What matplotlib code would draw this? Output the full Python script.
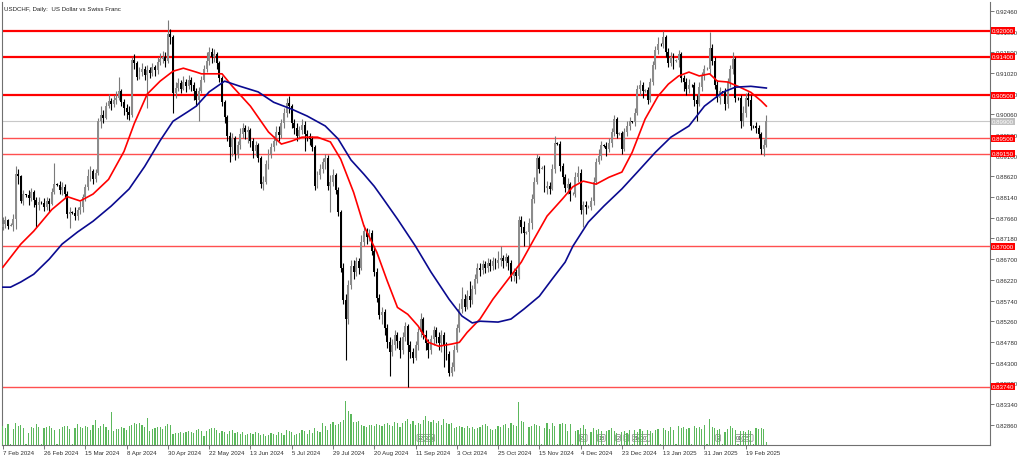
import numpy as np
import matplotlib
matplotlib.use("Agg")
import matplotlib.pyplot as plt
from matplotlib import font_manager

# USDCHF daily bars, 7 Feb 2024 .. 28 Feb 2025 (MT4 style)
first_open = 0.8745
closes = [
    0.8752, 0.8760, 0.8748, 0.8750, 0.8762, 0.8868, 0.8862, 0.8806, 0.8820, 0.8818,
    0.8812, 0.8825, 0.8808, 0.8795, 0.8802, 0.8800, 0.8790, 0.8805, 0.8798, 0.8825,
    0.8845, 0.8843, 0.8830, 0.8838, 0.8822, 0.8775, 0.8780, 0.8778, 0.8770, 0.8785,
    0.8790, 0.8815, 0.8838, 0.8862, 0.8875, 0.8855, 0.8870, 0.8990, 0.9005, 0.8998,
    0.9025, 0.9038, 0.9030, 0.9040, 0.9045, 0.9060, 0.9035, 0.9020, 0.9012, 0.9005,
    0.9132, 0.9125, 0.9092, 0.9105, 0.9112, 0.9098, 0.9108, 0.9102, 0.9115, 0.9108,
    0.9128, 0.9135, 0.9140, 0.9130, 0.9192, 0.9185, 0.9055, 0.9068, 0.9078, 0.9065,
    0.9080, 0.9072, 0.9085, 0.9075, 0.9060, 0.9040, 0.9060, 0.9085, 0.9110, 0.9130,
    0.9150, 0.9138, 0.9145, 0.9125, 0.9090, 0.9035, 0.9000, 0.8955, 0.8930, 0.8950,
    0.8915, 0.8935, 0.8960, 0.8975, 0.8965, 0.8970, 0.8945, 0.8920, 0.8935, 0.8905,
    0.8845, 0.8850, 0.8890, 0.8915, 0.8930, 0.8945, 0.8965, 0.8958, 0.8985, 0.9010,
    0.9032, 0.9025, 0.8985, 0.8975, 0.8955, 0.8970, 0.8982, 0.8960, 0.8955, 0.8948,
    0.8930, 0.8840, 0.8865, 0.8880, 0.8895, 0.8905, 0.8840, 0.8850, 0.8865, 0.8830,
    0.8780, 0.8650, 0.8575, 0.8530, 0.8610, 0.8655, 0.8640, 0.8665, 0.8650, 0.8710,
    0.8735, 0.8722, 0.8730, 0.8690, 0.8640, 0.8580, 0.8540, 0.8548, 0.8510, 0.8478,
    0.8455, 0.8470, 0.8495, 0.8480, 0.8460, 0.8490, 0.8515, 0.8470, 0.8455, 0.8440,
    0.8470, 0.8500, 0.8530, 0.8495, 0.8475, 0.8460, 0.8485, 0.8505, 0.8490, 0.8475,
    0.8495, 0.8470, 0.8450, 0.8405, 0.8420, 0.8460, 0.8510, 0.8555, 0.8578, 0.8560,
    0.8585, 0.8575, 0.8600, 0.8625, 0.8650, 0.8645, 0.8658, 0.8650, 0.8662, 0.8655,
    0.8665, 0.8660, 0.8668, 0.8672, 0.8665, 0.8675, 0.8662, 0.8630, 0.8640, 0.8632,
    0.8760, 0.8745, 0.8730, 0.8732, 0.8755, 0.8810, 0.8850, 0.8905, 0.8880, 0.8882,
    0.8835, 0.8840, 0.8832, 0.8880, 0.8940, 0.8938, 0.8885, 0.8860, 0.8835, 0.8845,
    0.8820, 0.8822, 0.8860, 0.8870, 0.8785, 0.8795, 0.8790, 0.8792, 0.8805, 0.8850,
    0.8895, 0.8910, 0.8935, 0.8933, 0.8925, 0.8940, 0.8965, 0.8995, 0.8960, 0.8962,
    0.8925, 0.8965, 0.8980, 0.8990, 0.8988, 0.9010, 0.9065, 0.9075, 0.9060, 0.9062,
    0.9040, 0.9080, 0.9120, 0.9155, 0.9170, 0.9168, 0.9185, 0.9150, 0.9125, 0.9140,
    0.9130, 0.9132, 0.9145, 0.9090, 0.9080, 0.9065, 0.9075, 0.9073, 0.9040, 0.9030,
    0.9070, 0.9095, 0.9110, 0.9112, 0.9160, 0.9130, 0.9075, 0.9045, 0.9060, 0.9058,
    0.9030, 0.9080, 0.9110, 0.9135, 0.9045, 0.9043, 0.8990, 0.9010, 0.9045, 0.9040,
    0.8980, 0.8978, 0.8975, 0.8960, 0.8925, 0.8935, 0.8990,
]
highs = [
    0.8768, 0.8770, 0.8764, 0.8753, 0.8775, 0.8885, 0.8880, 0.8866, 0.8830, 0.8822,
    0.8830, 0.8836, 0.8830, 0.8815, 0.8815, 0.8804, 0.8812, 0.8815, 0.8812, 0.8835,
    0.8892, 0.8846, 0.8852, 0.8850, 0.8845, 0.8828, 0.8790, 0.8781, 0.8790, 0.8792,
    0.8805, 0.8822, 0.8845, 0.8880, 0.8885, 0.8880, 0.8878, 0.8998, 0.9025, 0.9015,
    0.9035, 0.9052, 0.9045, 0.9050, 0.9060, 0.9092, 0.9065, 0.9042, 0.9030, 0.9025,
    0.9140, 0.9145, 0.9130, 0.9115, 0.9125, 0.9118, 0.9120, 0.9115, 0.9125, 0.9120,
    0.9140, 0.9148, 0.9152, 0.9150, 0.9225, 0.9205, 0.9190, 0.9080, 0.9090, 0.9085,
    0.9095, 0.9088, 0.9098, 0.9092, 0.9082, 0.9068, 0.9070, 0.9095, 0.9120, 0.9150,
    0.9162, 0.9160, 0.9158, 0.9150, 0.9130, 0.9095, 0.9040, 0.9005, 0.8965, 0.8962,
    0.8955, 0.8945, 0.8975, 0.8985, 0.8982, 0.8980, 0.8975, 0.8950, 0.8945, 0.8940,
    0.8910, 0.8862, 0.8900, 0.8925, 0.8940, 0.8955, 0.8978, 0.8980, 0.8995, 0.9020,
    0.9045, 0.9048, 0.9030, 0.8995, 0.8985, 0.8980, 0.8995, 0.8990, 0.8970, 0.8962,
    0.8955, 0.8935, 0.8875, 0.8890, 0.8905, 0.8915, 0.8912, 0.8865, 0.8878, 0.8870,
    0.8838, 0.8785, 0.8660, 0.8590, 0.8622, 0.8668, 0.8668, 0.8675, 0.8672, 0.8725,
    0.8750, 0.8742, 0.8740, 0.8738, 0.8700, 0.8650, 0.8590, 0.8560, 0.8555, 0.8520,
    0.8490, 0.8485, 0.8505, 0.8502, 0.8490, 0.8500, 0.8525, 0.8520, 0.8480, 0.8465,
    0.8480, 0.8510, 0.8545, 0.8535, 0.8505, 0.8485, 0.8495, 0.8515, 0.8512, 0.8500,
    0.8505, 0.8500, 0.8478, 0.8458, 0.8432, 0.8470, 0.8520, 0.8568, 0.8605, 0.8590,
    0.8598, 0.8620, 0.8610, 0.8635, 0.8660, 0.8662, 0.8668, 0.8665, 0.8672, 0.8670,
    0.8675, 0.8672, 0.8690, 0.8700, 0.8680, 0.8685, 0.8680, 0.8668, 0.8650, 0.8648,
    0.8770, 0.8770, 0.8758, 0.8735, 0.8765, 0.8820, 0.8860, 0.8915, 0.8910, 0.8885,
    0.8888, 0.8852, 0.8848, 0.8890, 0.8955, 0.8942, 0.8945, 0.8892, 0.8868, 0.8858,
    0.8850, 0.8825, 0.8872, 0.8885, 0.8878, 0.8805, 0.8805, 0.8795, 0.8815, 0.8860,
    0.8905, 0.8925, 0.8945, 0.8936, 0.8942, 0.8950, 0.8975, 0.9005, 0.9000, 0.8965,
    0.8968, 0.8975, 0.8990, 0.9000, 0.8991, 0.9020, 0.9075, 0.9085, 0.9082, 0.9065,
    0.9070, 0.9090, 0.9130, 0.9165, 0.9185, 0.9171, 0.9200, 0.9190, 0.9160, 0.9150,
    0.9148, 0.9135, 0.9155, 0.9150, 0.9098, 0.9090, 0.9088, 0.9076, 0.9080, 0.9050,
    0.9080, 0.9105, 0.9120, 0.9115, 0.9198, 0.9170, 0.9140, 0.9085, 0.9070, 0.9061,
    0.9068, 0.9090, 0.9120, 0.9150, 0.9140, 0.9046, 0.9050, 0.9025, 0.9055, 0.9058,
    0.9050, 0.8981, 0.8988, 0.8982, 0.8965, 0.8948, 0.9005,
]
lows = [
    0.8738, 0.8742, 0.8740, 0.8747, 0.8735, 0.8740, 0.8845, 0.8800, 0.8795, 0.8815,
    0.8795, 0.8805, 0.8790, 0.8745, 0.8785, 0.8797, 0.8782, 0.8785, 0.8780, 0.8795,
    0.8820, 0.8840, 0.8820, 0.8818, 0.8812, 0.8765, 0.8742, 0.8775, 0.8760, 0.8760,
    0.8775, 0.8780, 0.8805, 0.8830, 0.8852, 0.8845, 0.8848, 0.8865, 0.8975, 0.8985,
    0.8995, 0.9020, 0.9015, 0.9022, 0.9030, 0.9040, 0.9025, 0.9005, 0.8995, 0.8992,
    0.9000, 0.9110, 0.9085, 0.9088, 0.9095, 0.9085, 0.9020, 0.9090, 0.9095, 0.9095,
    0.9100, 0.9120, 0.9125, 0.9115, 0.9125, 0.9170, 0.9010, 0.9045, 0.9060, 0.9055,
    0.9062, 0.9058, 0.9065, 0.9060, 0.9040, 0.9025, 0.8990, 0.9055, 0.9080, 0.9105,
    0.9120, 0.9125, 0.9128, 0.9110, 0.9080, 0.9025, 0.8985, 0.8945, 0.8895, 0.8910,
    0.8900, 0.8905, 0.8925, 0.8950, 0.8948, 0.8940, 0.8930, 0.8905, 0.8910, 0.8895,
    0.8835, 0.8830, 0.8845, 0.8880, 0.8905, 0.8920, 0.8935, 0.8945, 0.8950, 0.8975,
    0.9000, 0.9010, 0.8975, 0.8960, 0.8945, 0.8948, 0.8960, 0.8920, 0.8945, 0.8935,
    0.8920, 0.8830, 0.8835, 0.8855, 0.8870, 0.8880, 0.8830, 0.8780, 0.8840, 0.8820,
    0.8770, 0.8640, 0.8565, 0.8435, 0.8520, 0.8600, 0.8625, 0.8630, 0.8635, 0.8645,
    0.8700, 0.8705, 0.8712, 0.8680, 0.8630, 0.8570, 0.8530, 0.8520, 0.8495, 0.8465,
    0.8400, 0.8445, 0.8460, 0.8465, 0.8440, 0.8450, 0.8480, 0.8374, 0.8440, 0.8428,
    0.8435, 0.8460, 0.8490, 0.8485, 0.8460, 0.8440, 0.8450, 0.8470, 0.8475, 0.8460,
    0.8455, 0.8420, 0.8435, 0.8400, 0.8398, 0.8410, 0.8455, 0.8500, 0.8545, 0.8550,
    0.8555, 0.8560, 0.8565, 0.8590, 0.8615, 0.8630, 0.8635, 0.8638, 0.8640, 0.8642,
    0.8645, 0.8648, 0.8650, 0.8655, 0.8650, 0.8655, 0.8645, 0.8620, 0.8620, 0.8615,
    0.8625, 0.8730, 0.8700, 0.8728, 0.8700, 0.8740, 0.8800, 0.8845, 0.8870, 0.8878,
    0.8825, 0.8820, 0.8820, 0.8830, 0.8870, 0.8935, 0.8875, 0.8845, 0.8825, 0.8820,
    0.8805, 0.8818, 0.8815, 0.8850, 0.8775, 0.8745, 0.8775, 0.8788, 0.8785, 0.8795,
    0.8845, 0.8890, 0.8900, 0.8930, 0.8910, 0.8918, 0.8930, 0.8955, 0.8950, 0.8958,
    0.8915, 0.8920, 0.8955, 0.8970, 0.8985, 0.8980, 0.9005, 0.9050, 0.9045, 0.9058,
    0.9030, 0.9035, 0.9075, 0.9110, 0.9145, 0.9165, 0.9160, 0.9140, 0.9115, 0.9118,
    0.9110, 0.9128, 0.9115, 0.9080, 0.9060, 0.9050, 0.9055, 0.9070, 0.9025, 0.8990,
    0.9025, 0.9060, 0.9085, 0.9108, 0.9100, 0.9120, 0.9065, 0.9035, 0.9030, 0.9055,
    0.9015, 0.9020, 0.9070, 0.9100, 0.9035, 0.9040, 0.8975, 0.8980, 0.9000, 0.9025,
    0.8970, 0.8975, 0.8962, 0.8950, 0.8915, 0.8910, 0.8930,
]
# tick volume, thousands
volumes = [
    19, 17, 21, 1, 16, 22, 19, 20, 17, 1,
    12, 18, 17, 21, 18, 1, 17, 18, 19, 17,
    15, 1, 16, 18, 19, 19, 16, 1, 17, 21,
    18, 17, 19, 18, 15, 20, 25, 17, 19, 21,
    18, 15, 33, 14, 16, 16, 18, 17, 15, 19,
    20, 22, 21, 22, 20, 18, 27, 14, 16, 17,
    18, 18, 16, 19, 21, 20, 11, 12, 12, 13,
    12, 13, 14, 13, 12, 15, 16, 14, 9, 14,
    16, 17, 17, 15, 12, 14, 13, 11, 14, 15,
    12, 13, 11, 13, 10, 11, 12, 11, 13, 12,
    10, 11, 9, 10, 12, 11, 10, 13, 12, 10,
    15, 14, 13, 10, 11, 12, 15, 14, 11, 15,
    12, 17, 14, 13, 22, 19, 15, 21, 23, 20,
    21, 23, 25, 44, 34, 31, 23, 23, 24, 20,
    19, 18, 20, 20, 19, 21, 20, 19, 21, 22,
    20, 19, 23, 22, 18, 22, 24, 26, 21, 24,
    20, 22, 21, 25, 29, 24, 23, 25, 22, 24,
    20, 26, 22, 21, 22, 17, 18, 19, 18, 17,
    19, 17, 18, 16, 17, 18, 20, 21, 19, 16,
    15, 16, 19, 18, 20, 21, 17, 22, 20, 19,
    43, 24, 23, 1, 18, 19, 21, 20, 19, 1,
    17, 22, 16, 22, 19, 1, 21, 22, 21, 14,
    21, 1, 14, 15, 17, 20, 16, 1, 13, 17,
    15, 16, 14, 1, 14, 15, 17, 14, 12, 1,
    13, 14, 12, 15, 1, 15, 13, 16, 14, 1,
    15, 14, 12, 15, 16, 1, 17, 15, 14, 18,
    15, 1, 19, 17, 18, 16, 17, 1, 19, 17,
    18, 16, 20, 1, 26, 18, 17, 15, 16, 1,
    13, 16, 19, 17, 15, 1, 14, 14, 13, 15,
    14, 1, 17, 16, 17, 16, 3,
]

# moving averages (bar index -> value)
red_ma_idx = [0, 7, 12, 19, 25, 30, 35, 41, 47, 51, 56, 61, 66, 70, 75, 77, 85, 89, 96, 103,
              108, 112, 116, 122, 127, 131, 136, 140, 145, 149, 153, 157, 161, 165, 169, 174,
              177, 180, 185, 190, 196, 201, 206, 211, 217, 221, 225, 230, 235, 240, 244, 249,
              254, 258, 262, 266, 270, 274, 277, 281, 285, 290, 294, 296]
red_ma = [0.8651, 0.8705, 0.8735, 0.8785, 0.8815, 0.8805, 0.8821, 0.8855, 0.8920, 0.8985,
          0.9053, 0.9083, 0.9106, 0.9113, 0.9104, 0.9100, 0.9100, 0.9071, 0.9025, 0.8965,
          0.8937, 0.8944, 0.8953, 0.8953, 0.8942, 0.8902, 0.8825, 0.8747, 0.8686, 0.8620,
          0.8558, 0.8542, 0.8515, 0.8477, 0.8468, 0.8473, 0.8477, 0.8500, 0.8531, 0.8577,
          0.8624, 0.8663, 0.8717, 0.8770, 0.8810, 0.8838, 0.8851, 0.8844, 0.8860, 0.8872,
          0.8918, 0.8995, 0.9048, 0.9076, 0.9095, 0.9104, 0.9095, 0.9100, 0.9083, 0.9081,
          0.9071, 0.9057, 0.9037, 0.9025]
blue_ma_idx = [0, 3, 7, 12, 18, 23, 29, 35, 42, 49, 55, 61, 66, 72, 75, 80, 86, 92, 99, 105,
               112, 118, 125, 130, 135, 140, 144, 147, 153, 160, 166, 173, 178, 182, 185, 192,
               197, 202, 208, 213, 218, 221, 227, 233, 240, 246, 253, 259, 266, 272, 279, 284,
               290, 296]
blue_ma = [0.8605, 0.8605, 0.8617, 0.8635, 0.8670, 0.8705, 0.8733, 0.8758, 0.8793, 0.8833,
           0.8885, 0.8945, 0.8990, 0.9013, 0.9025, 0.9058, 0.9083, 0.9071, 0.9058, 0.9034,
           0.9018, 0.9002, 0.8979, 0.8949, 0.8900, 0.8867, 0.8839, 0.8814, 0.8763, 0.8700,
           0.8640, 0.8577, 0.8538, 0.8522, 0.8526, 0.8524, 0.8531, 0.8554, 0.8584, 0.8624,
           0.8663, 0.8700, 0.8756, 0.8793, 0.8833, 0.8872, 0.8918, 0.8953, 0.8979, 0.9025,
           0.9057, 0.9069, 0.9071, 0.9067]

levels = [0.92000, 0.91400, 0.90500, 0.89500, 0.89150, 0.87000, 0.83740]
date_labels = ["7 Feb 2024", "26 Feb 2024", "15 Mar 2024", "8 Apr 2024", "30 Apr 2024",
               "22 May 2024", "13 Jun 2024", "5 Jul 2024", "29 Jul 2024", "20 Aug 2024",
               "11 Sep 2024", "3 Oct 2024", "25 Oct 2024", "15 Nov 2024", "4 Dec 2024",
               "23 Dec 2024", "13 Jan 2025", "31 Jan 2025", "19 Feb 2025"]
# calendar event markers (bar index, text)
events = [(164, "22(30)"), (225, "21"), (232, "18"), (238.5, "2"), (241.7, "1"),
          (247.5, "21(00)"), (277.3, "2"), (287.4, "01(05)")]

# narrow font for the small MT4-like labels
avail = {f.name for f in font_manager.fontManager.ttflist}
if "Liberation Sans Narrow" in avail:
    small_font, fs = "Liberation Sans Narrow", 5.2
else:
    small_font, fs = "Liberation Sans", 4.4
plt.rcParams["font.family"] = [small_font, "DejaVu Sans"]

closes = np.array(closes)
highs = np.array(highs)
lows = np.array(lows)
opens = np.concatenate(([first_open], closes[:-1]))
x = np.arange(len(closes))
up = closes >= opens

fig = plt.figure(figsize=(10.24, 4.6), dpi=100)
ax = fig.add_axes([2 / 1024, 14 / 460, 988 / 1024, 443 / 460])

# volume overlay at the bottom
vax = ax.twinx()
vax.bar(x, volumes, width=0.45, color="#5cb85c", linewidth=0)
vax.set_ylim(0, 443)
vax.set_yticks([])
for s in vax.spines.values():
    s.set_visible(False)

for lvl in levels:
    major = lvl >= 0.905
    ax.axhline(lvl, color="#ff0000" if major else "#ff5050",
               lw=1.6 if major else 1.0, zorder=1)
last = closes[-1]
ax.axhline(last, color="#c8c8c8", lw=0.8, zorder=1)

# candles
up_col, dn_col = "#8c8c8c", "#000000"
ax.vlines(x, np.minimum(lows, np.minimum(opens, closes)), np.maximum(highs, np.maximum(opens, closes)),
          colors=np.where(up, "#7a7a7a", dn_col), linewidth=0.8, zorder=2)
body_lo = np.minimum(opens, closes)
body_h = np.maximum(np.abs(closes - opens), 0.00012)
ax.bar(x, body_h, bottom=body_lo, width=0.75, color=np.where(up, up_col, dn_col),
       linewidth=0, zorder=3)

ax.plot(red_ma_idx, red_ma, color="#ff0000", lw=1.2, zorder=4)
ax.plot(blue_ma_idx, blue_ma, color="#0a0a90", lw=1.2, zorder=4)

ax.set_xlim(-0.3, 382.7)
ax.set_ylim(0.82388, 0.92666)

ax.yaxis.tick_right()
ax.set_yticks(np.arange(0.82860, 0.92470, 0.0048))
ax.yaxis.set_major_formatter(plt.FuncFormatter(lambda v, p: f"{v:.5f}"))
ax.tick_params(axis="y", labelsize=fs, length=3, width=0.6, color="#606060",
               labelcolor="#303030", pad=1)
ax.set_xticks(np.arange(0, len(closes), 16)[:len(date_labels)])
ax.set_xticklabels(date_labels)
for lab in ax.get_xticklabels():
    lab.set_horizontalalignment("left")
ax.tick_params(axis="x", labelsize=fs, length=3, width=0.6, color="#606060",
               labelcolor="#303030", pad=0.5)
for s in ax.spines.values():
    s.set_color("#707070")
    s.set_linewidth(0.8)
ax.spines["top"].set_visible(False)

tr = ax.get_yaxis_transform()
for lvl in levels:
    ax.annotate(f"{lvl:.5f}", xy=(1, lvl), xycoords=tr, xytext=(1.3, 0),
                textcoords="offset points", ha="left", va="center", fontsize=fs,
                color="white", annotation_clip=False, zorder=6,
                bbox=dict(boxstyle="square,pad=0.15", fc="#ff0000", ec="none"))
ax.annotate(f"{last:.5f}", xy=(1, last), xycoords=tr, xytext=(1.3, 0),
            textcoords="offset points", ha="left", va="center", fontsize=fs,
            color="white", annotation_clip=False, zorder=6,
            bbox=dict(boxstyle="square,pad=0.15", fc="#c0c0c0", ec="none"))

for pos, txt in events:
    ax.text(pos, 0.016, txt, transform=ax.get_xaxis_transform(), ha="center", va="center",
            fontsize=fs - 0.4, color="#404040", zorder=6,
            bbox=dict(boxstyle="round,pad=0.15", fc="white", ec="#808080", lw=0.5))

ax.text(0.002, 0.992, "USDCHF, Daily:  US Dollar vs Swiss Franc", transform=ax.transAxes,
        ha="left", va="top", fontsize=fs, color="#202020")

fig.savefig("out.png", dpi=100, facecolor="white")
